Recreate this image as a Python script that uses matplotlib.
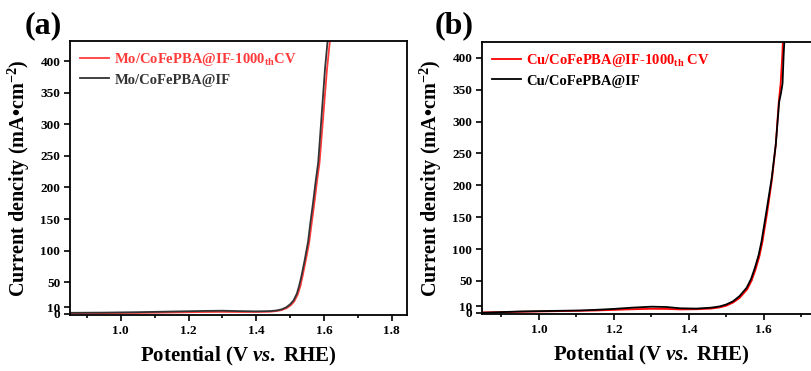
"""LSV polarization curves before/after 1000 CV cycles (two panels)."""

import matplotlib

matplotlib.use("Agg")
import matplotlib.pyplot as plt
from matplotlib.ticker import MultipleLocator

plt.rcParams["font.family"] = ["Liberation Serif", "DejaVu Serif"]
plt.rcParams["font.weight"] = "bold"
plt.rcParams["mathtext.fontset"] = "custom"
plt.rcParams["mathtext.rm"] = "Liberation Serif:bold"
plt.rcParams["mathtext.it"] = "Liberation Serif:italic:bold"
plt.rcParams["mathtext.bf"] = "Liberation Serif:bold"

# panel (a): Mo/CoFePBA@IF
mo_v = [0.85, 0.95, 1.05, 1.15, 1.25, 1.30, 1.35, 1.40, 1.44, 1.46, 1.475, 1.488,
        1.50, 1.51, 1.52, 1.527, 1.534, 1.543, 1.553, 1.56, 1.568, 1.575, 1.583,
        1.593, 1.603, 1.612]
mo_j = [1.5, 1.8, 2.5, 3.5, 4.5, 4.8, 4.2, 3.8, 4.2, 5.2, 7, 10,
        15, 21, 32, 45, 61, 85, 114, 145, 177, 208, 240,
        314, 388, 440]
mo_cv_v = [0.85, 0.95, 1.05, 1.15, 1.25, 1.30, 1.35, 1.40, 1.44, 1.46, 1.475, 1.49,
           1.502, 1.512, 1.522, 1.53, 1.537, 1.546, 1.556, 1.564, 1.572, 1.579, 1.587,
           1.598, 1.609, 1.619]
mo_cv_j = [0.8, 1.0, 1.3, 2.0, 2.8, 3.0, 2.8, 2.8, 3.2, 4.3, 5.8, 9,
           13.5, 19.5, 30, 43, 60, 84, 112, 145, 177, 208, 240,
           314, 388, 440]

# panel (b): Cu/CoFePBA@IF
cu_v = [0.85, 0.90, 0.95, 1.00, 1.05, 1.11, 1.15, 1.20, 1.25, 1.30, 1.34, 1.376,
        1.42, 1.46, 1.483, 1.50, 1.518, 1.535, 1.554, 1.566, 1.576, 1.586, 1.594,
        1.607, 1.621, 1.632, 1.641, 1.646, 1.650, 1.653, 1.656]
cu_j = [0.0, 1.0, 2.0, 2.5, 3.0, 3.6, 4.5, 6, 8, 9.5, 9, 7,
        6.5, 8, 10, 13, 18, 26, 39, 53, 70, 90, 112,
        159, 211, 264, 331, 345, 360, 405, 440]
cu_cv_v = [0.85, 0.90, 0.95, 1.00, 1.05, 1.11, 1.15, 1.20, 1.25, 1.30, 1.34, 1.376,
           1.42, 1.46, 1.483, 1.50, 1.518, 1.535, 1.556, 1.568, 1.578, 1.588, 1.596,
           1.609, 1.622, 1.632, 1.640, 1.645, 1.649, 1.652]
cu_cv_j = [0.5, 1.0, 1.5, 2.0, 2.5, 3.0, 3.5, 4.5, 5.5, 6.2, 6, 5.2,
           5.5, 6.5, 8.5, 11, 16, 23, 37, 51, 68, 88, 110,
           157, 210, 264, 331, 360, 400, 440]

y_ticks = [0, 10, 50, 100, 150, 200, 250, 300, 350, 400]


def style_axis(ax, xlim, ylim):
    ax.set_xlim(*xlim)
    ax.set_ylim(*ylim)
    ax.set_yticks(y_ticks)
    ax.xaxis.set_major_locator(MultipleLocator(0.2))
    ax.xaxis.set_minor_locator(MultipleLocator(0.1))
    ax.tick_params(which="both", direction="out", width=1.2, labelsize=9.5,
                   top=False, right=False)
    ax.tick_params(which="major", length=4, pad=3)
    ax.tick_params(which="minor", length=2.5)
    for s in ax.spines.values():
        s.set_linewidth(1.3)
    for lab in ax.get_xticklabels() + ax.get_yticklabels():
        lab.set_fontweight("bold")
    ax.set_xlabel(r"Potential (V $\mathit{vs.}$ RHE)", fontsize=15, fontweight="bold",
                  labelpad=6)
    ax.set_ylabel("Current dencity (mA\u2022cm$^{-2}$)", fontsize=14.5,
                  fontweight="bold", labelpad=6)


fig = plt.figure(figsize=(8.11, 3.71), dpi=100)
ax_a = fig.add_axes([0.0863, 0.1509, 0.4155, 0.7385])
ax_b = fig.add_axes([0.5943, 0.1536, 0.4168, 0.7332])

ax_a.plot(mo_cv_v, mo_cv_j, color="#ff3b3b", linewidth=1.3,
          label=r"Mo/CoFePBA@IF-1000$_{\mathrm{th}}$CV")
ax_a.plot(mo_v, mo_j, color="#333333", linewidth=1.3, label="Mo/CoFePBA@IF")
style_axis(ax_a, (0.85, 1.845), (-2, 432))

ax_b.plot(cu_cv_v, cu_cv_j, color="#ff0000", linewidth=1.3,
          label=r"Cu/CoFePBA@IF-1000$_{\mathrm{th}}$ CV")
ax_b.plot(cu_v, cu_j, color="#000000", linewidth=1.3, label="Cu/CoFePBA@IF")
style_axis(ax_b, (0.848, 1.75), (-2, 425))

for ax in (ax_a, ax_b):
    leg = ax.legend(loc="upper left", frameon=False,
                    handlelength=2.0, handletextpad=0.35, labelspacing=0.35,
                    borderaxespad=0.3, prop={"weight": "bold", "size": 10.5})
    for line, text in zip(leg.get_lines(), leg.get_texts()):
        text.set_color(line.get_color())

fig.text(0.053, 0.93, "(a)", fontsize=23, fontweight="bold", ha="center", va="center")
fig.text(0.560, 0.93, "(b)", fontsize=23, fontweight="bold", ha="center", va="center")

fig.savefig("out.png", dpi=100)
plt.close(fig)
